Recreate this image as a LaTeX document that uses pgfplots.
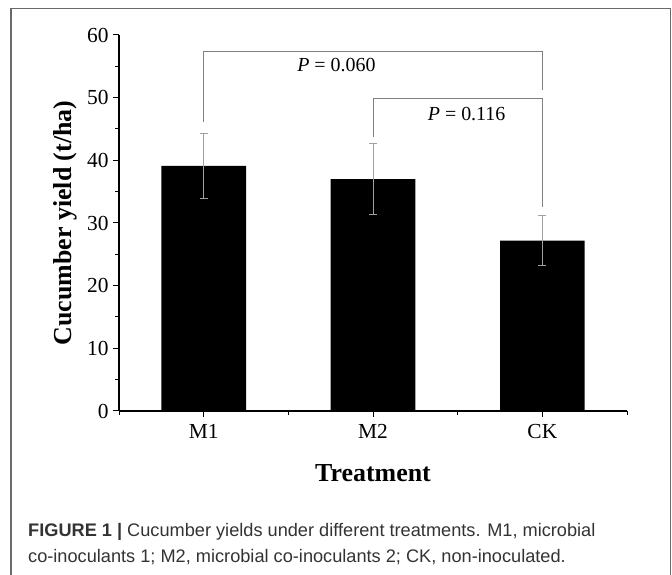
\documentclass[border=0pt]{standalone}
\usepackage{pgfplots}
\pgfplotsset{compat=1.18}
\usepackage{fontspec}
\setmainfont{Liberation Serif}
\newfontfamily\capfont{Liberation Sans}
\definecolor{brk}{HTML}{808080}
\definecolor{errc}{HTML}{A0A0A0}
\definecolor{capc}{HTML}{333333}
\definecolor{framec}{HTML}{6A6A6A}
\begin{document}
\begin{tikzpicture}[x=1bp,y=1bp]
\useasboundingbox (0,0) rectangle (672,575);
\draw[framec, line width=1.3bp] (11,-2) -- (11,566.5) -- (670.5,566.5) -- (670.5,-2);
\begin{axis}[
  at={(119bp,164bp)}, anchor=south west,
  scale only axis, width=508bp, height=376bp,
  xmin=0.5, xmax=3.5, ymin=0, ymax=60,
  axis lines*=left,
  xtick={1,2,3}, xticklabels={M1,M2,CK}, minor xtick={0.5,1.5,2.5,3.5},
  ytick={0,10,...,60}, minor ytick={5,15,...,55},
  tick align=outside, major tick length=6bp, minor tick length=4bp,
  tick style={black, line width=1bp},
  axis line style={black, line width=1.3bp},
  tick label style={font=\fontsize{21.5}{22}\selectfont},
  xticklabel style={yshift=-4bp},
  yticklabel style={xshift=-1bp},
  /pgf/number format/assume math mode=true,
  xlabel={Treatment}, ylabel={Cucumber yield (t/ha)},
  label style={font=\bfseries\fontsize{26}{28}\selectfont},
  xlabel style={at={(axis description cs:0.5,-0.165)}, anchor=center},
  ylabel style={at={(axis description cs:-0.106,0.5)}, anchor=center},
  clip=false,
]
\addplot[ybar, bar width=0.5, fill=black, draw=none,
  error bars/.cd, y dir=both, y explicit,
  error bar style={errc, line width=0.8bp},
  error mark options={errc, line width=0.8bp, mark size=4bp, rotate=90}]
  coordinates {(1,39.1) +- (0,5.2) (2,37.0) +- (0,5.7) (3,27.2) +- (0,4.0)};
\addplot[brk, line width=1bp, mark=none] coordinates {(1,46.1) (1,57.3) (3,57.3) (3,51.3)};
\addplot[brk, line width=1bp, mark=none] coordinates {(2,43.75) (2,49.8) (3,49.8) (3,32.6)};
\node[font=\fontsize{20}{22}\selectfont] at (axis cs:1.784,55.2) {\textit{P} = 0.060};
\node[font=\fontsize{20}{22}\selectfont] at (axis cs:2.553,47.4) {\textit{P} = 0.116};
\end{axis}
\node[anchor=base west, inner sep=0, font=\capfont\fontsize{18.25}{20}\selectfont, text=capc] at (28,38) {\textbf{FIGURE 1 |} Cucumber yields under different treatments. M1, microbial};
\node[anchor=base west, inner sep=0, font=\capfont\fontsize{18.25}{20}\selectfont, text=capc] at (28,12) {co-inoculants 1; M2, microbial co-inoculants 2; CK, non-inoculated.};
\end{tikzpicture}
\end{document}
